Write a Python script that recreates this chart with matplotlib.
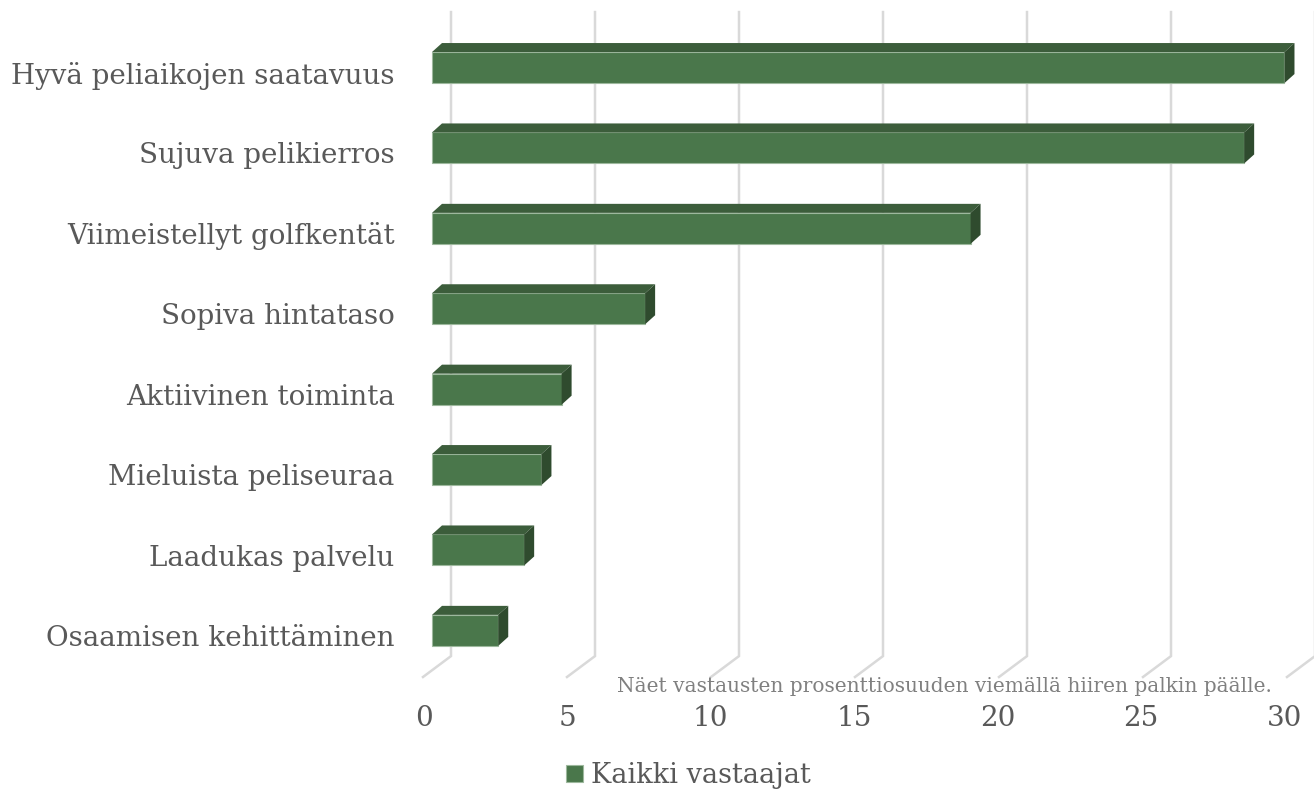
import matplotlib
matplotlib.use("Agg")
import matplotlib.pyplot as plt
from matplotlib.patches import Polygon

# data
categories = ["Hyvä peliaikojen saatavuus", "Sujuva pelikierros", "Viimeistellyt golfkentät",
              "Sopiva hintataso", "Aktiivinen toiminta", "Mieluista peliseuraa",
              "Laadukas palvelu", "Osaamisen kehittäminen"]
values = [29.6, 28.2, 18.7, 7.4, 4.5, 3.8, 3.2, 2.3]
ticks = [0, 5, 10, 15, 20, 25, 30]
series_name = "Kaikki vastaajat"
note = "Näet vastausten prosenttiosuuden viemällä hiiren palkin päälle."

front = "#4a774b"
top = "#3c5d3b"
side = "#2f4b2e"
grid = "#d9d9d9"
txt = "#595959"

fig = plt.figure(figsize=(13.14, 7.96), dpi=100)
ax = fig.add_axes([0, 0, 1, 1])
# 28.8 px per unit, 80.4 px per category
ax.set_xlim(-15.0, 30.625)
ax.set_ylim(9.06, -0.84)
ax.axis("off")

# 3d offsets in data units
bdx, bdy = 10 / 28.8, 9 / 80.4       # bar depth
wdx = 19 / 28.8                      # back wall offset from bar front
fdx = -9 / 28.8                      # floor front offset
h = 31 / 80.4

# perspective grid
for t in ticks:
    ax.plot([t + wdx, t + wdx, t + fdx], [-0.69, 7.32, 7.58], color=grid, lw=1.8,
            solid_joinstyle="miter", zorder=1)
    ax.text(t * 0.996 - 0.28, 8.09, str(t), ha="center", va="center",
            fontsize=20, color=txt, family="DejaVu Serif")

ax.barh(range(len(values)), values, height=h, color=front, edgecolor="#9db89d",
        linewidth=0.8, label=series_name, zorder=3)
for i, v in enumerate(values):
    y0 = i - h / 2
    y1 = i + h / 2
    ax.add_patch(Polygon([(0, y0), (bdx, y0 - bdy), (v + bdx, y0 - bdy), (v, y0)],
                         closed=True, facecolor=top, edgecolor="none", zorder=3))
    ax.add_patch(Polygon([(v, y0), (v + bdx, y0 - bdy), (v + bdx, y1 - bdy), (v, y1)],
                         closed=True, facecolor=side, edgecolor="none", zorder=3))
    ax.text(-1.3, i + 0.1, categories[i], ha="right", va="center",
            fontsize=20, color=txt, family="DejaVu Serif")

ax.text(17.8, 7.7, note, ha="center", va="center", fontsize=14.5, color="#808080",
        family="DejaVu Serif")

leg = ax.legend(loc="lower center", bbox_to_anchor=(0.524, -0.022), frameon=False,
                handlelength=0.6, handleheight=0.6, handletextpad=0.3,
                prop={"family": "DejaVu Serif", "size": 19.5})
for t in leg.get_texts():
    t.set_color(txt)

fig.savefig("out.png", dpi=100)
